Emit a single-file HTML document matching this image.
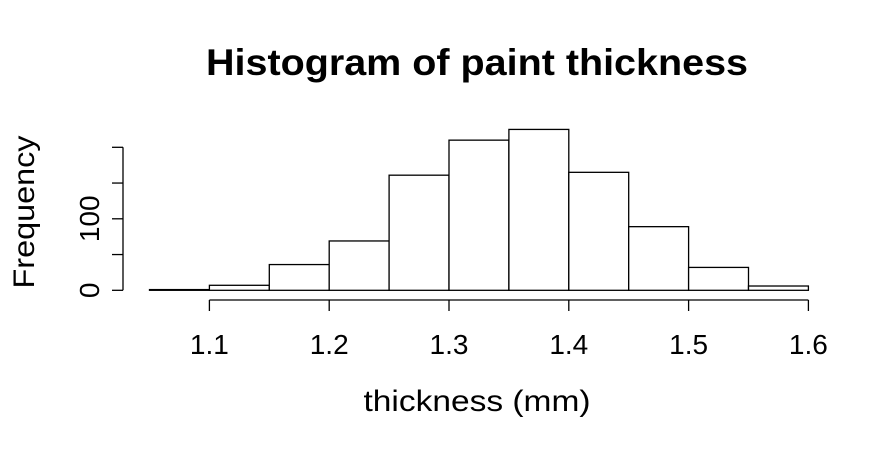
<!DOCTYPE html>
<html><head><meta charset="utf-8"><style>
html,body{margin:0;padding:0;background:#fff;}
svg{display:block;font-family:"Liberation Sans",Arial,sans-serif;}
</style></head><body>
<svg id="chart" width="893" height="450">
<text x="477" y="75" text-anchor="middle" font-size="37" font-weight="bold" textLength="542" lengthAdjust="spacingAndGlyphs">Histogram of paint thickness</text>
<text x="477" y="411" text-anchor="middle" font-size="30" textLength="227" lengthAdjust="spacingAndGlyphs">thickness (mm)</text>
<text transform="translate(34,212) rotate(-90)" text-anchor="middle" font-size="30" textLength="153" lengthAdjust="spacingAndGlyphs">Frequency</text>
<g id="bars"></g><g id="xaxis"></g><g id="yaxis"></g>
</svg>
<script>
const binStarts=[1.05,1.10,1.15,1.20,1.25,1.30,1.35,1.40,1.45,1.50,1.55];
const counts=[1,7,36,69,161,210,225,165,89,32,6];
const xTicks=[1.1,1.2,1.3,1.4,1.5,1.6];
const xTickLabels=["1.1","1.2","1.3","1.4","1.5","1.6"];
const yTicks=[0,50,100,150,200];
const yTickLabels=["0","","100","",""];
const binWidth=0.05;
const NS="http://www.w3.org/2000/svg";
function sx(v){return 209.4+(v-1.1)*(599/0.5);}
function sy(v){return 290.3-v*0.715;}
function mk(t,a,p){const e=document.createElementNS(NS,t);for(const k in a)e.setAttribute(k,a[k]);p.appendChild(e);return e;}
const bars=document.getElementById('bars');
binStarts.forEach((s,i)=>{
 const x0=sx(s),x1=sx(s+binWidth),y=sy(counts[i]);
 const r=mk('rect',{x:x0,y:y,width:x1-x0,height:sy(0)-y,fill:'#fff',stroke:'#000','stroke-width':1.3},bars);
 
 
});
const xa=document.getElementById('xaxis');
const xl=mk('line',{x1:sx(xTicks[0]),x2:sx(xTicks[xTicks.length-1]),y1:300,y2:300,stroke:'#000','stroke-width':1.3},xa);


xTicks.forEach((v,i)=>{
 mk('line',{x1:sx(v),x2:sx(v),y1:300,y2:311,stroke:'#000','stroke-width':1.3},xa);
 const t=mk('text',{x:sx(v),y:354,'text-anchor':'middle','font-size':28},xa);
 t.textContent=xTickLabels[i];
 
 
});
const ya=document.getElementById('yaxis');
const yl=mk('line',{x1:123,x2:123,y1:sy(yTicks[0]),y2:sy(yTicks[yTicks.length-1]),stroke:'#000','stroke-width':1.3},ya);


yTicks.forEach((v,i)=>{
 mk('line',{x1:112,x2:123,y1:sy(v),y2:sy(v),stroke:'#000','stroke-width':1.3},ya);
 if(yTickLabels[i]){
  const t=mk('text',{transform:'translate(99,'+sy(v)+') rotate(-90)','text-anchor':'middle','font-size':28},ya);
  t.textContent=yTickLabels[i];
  
  
 }
});
</script>
</body></html>
